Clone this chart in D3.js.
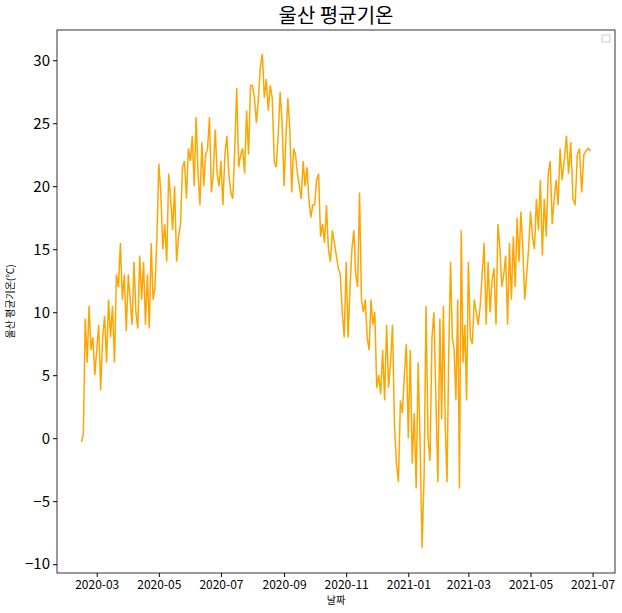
<!DOCTYPE html><html><head><meta charset="utf-8">
<script src="https://cdn.jsdelivr.net/npm/d3@7"></script>
<style>body{margin:0;background:#fff;font-family:"Noto Sans CJK KR","Noto Sans",sans-serif}</style></head><body>
<svg id="c" width="622" height="613"></svg>
<script>
const months=["2020-02-15","2020-03","2020-04","2020-05","2020-06","2020-07","2020-08","2020-09","2020-10","2020-11","2020-12","2021-01","2021-02","2021-03","2021-04","2021-05","2021-06"];
const monthValues=[
[-0.3,0.3,9.5,6,10.5,7,8,5],
[7,9,3.8,8,9.7,6,11,8,10.5,6,13,12,15.5,11,13,8.5],
[13,11,9,14,10,8.7,14.5,11,14,9,13,8.7,15.5,11,12,16],
[21.8,19.5,15,17,14,21,19,16.5,20,14,16,17,21.5,22,19,23],
[22,24,20,25.5,21,18.5,23.5,20,22.5,23,25.5,19.5,21,24.5,21,20],
[22,18.5,22.5,24,21,19.5,19,23,27.8,21.5,22.5,23,21,26,22.5,28],
[28,27,25,27,29.5,30.5,27,28.5,26,28,27,22,21.5,24,27.5,25],
[20,24,27,24.5,19.5,23,22.5,21,20,19,22,20,21.5,19,17.5,18.5],
[18.5,20.5,21,16,17,15.5,18.5,15,14,16.5,15.5,14.5,13.5,13,10,8],
[14,8,12,15,16.5,13,12,19.5,11,10,11,8,7,11,9,10],
[4,5,3.5,7,3,9,4,6,9,1,-2,-3.5,3,2,5,7.5],
[0,7,-2,2,-4,6,-0.5,-8.7,-3,10.5,0,-1.8,8,10,3,-3.5],
[9.5,1.5,10.5,1,-3.5,7,14,8,7,3,11,-4,16.5,6,9,3],
[14,8,7.5,11,10,9,10.5,13,15.5,9,14,10,12.5,13.5,9,17],
[15,12,13,14.5,9,15.5,11,16,12,17.5,14,18,15,11,13,15],
[18,16,15,19,16.5,20.5,14.5,19,16,21,22,17,19,20.5,18.5,23],
[20.5,22,24,21,23.5,19,18.5,22.5,23,19.5,22.5,22.8,23,22.8]
];
const yTicks=[-10,-5,0,5,10,15,20,25,30];
const data=[];
months.forEach((m,i)=>{
  const start=i===0?new Date(2020,1,15):new Date(+m.slice(0,4),+m.slice(5)-1,1);
  const end=i===0?new Date(2020,2,1):d3.timeMonth.offset(start,1);
  const vals=monthValues[i];const step=(end-start)/vals.length;
  vals.forEach((v,j)=>data.push({d:new Date(+start+j*step),v}));
});
const svg=d3.select("#c");
const L=57,R=615,T=30,B=573;
const x=d3.scaleTime().domain([new Date(2020,0,22),new Date(2021,6,23)]).range([L,R]);
const y=d3.scaleLinear().domain([-10.7,32.4]).range([B,T]);
svg.append("rect").attr("x",L).attr("y",T).attr("width",R-L).attr("height",B-T).attr("fill","none").attr("stroke","#000").attr("stroke-width",0.8);
svg.append("path").datum(data).attr("fill","none").attr("stroke","orange").attr("stroke-width",1.5)
 .attr("d",d3.line().x(d=>x(d.d)).y(d=>y(d.v)));
const xt=[];for(let i=0;i<=8;i++)xt.push(new Date(2020,2+2*i,1));
const gx=svg.append("g").attr("transform",`translate(0,${B})`).call(d3.axisBottom(x).tickValues(xt).tickFormat(d3.timeFormat("%Y-%m")).tickSizeOuter(0).tickSize(4));
gx.selectAll("text").attr("font-size",12).attr("fill","#000").attr("font-family","Noto Sans CJK KR");gx.select(".domain").remove();
const gy=svg.append("g").attr("transform",`translate(${L},0)`).call(d3.axisLeft(y).tickValues(yTicks).tickSizeOuter(0).tickSize(4));
gy.selectAll("text").attr("font-size",15).attr("fill","#000").attr("font-family","Noto Sans CJK KR");gy.select(".domain").remove();
svg.append("text").attr("x",(L+R)/2).attr("y",23).attr("text-anchor","middle").attr("font-size",20).text("울산 평균기온");
svg.append("text").attr("x",(L+R)/2).attr("y",604).attr("text-anchor","middle").attr("font-size",10).text("날짜");
svg.append("text").attr("transform",`translate(14,${(T+B)/2}) rotate(-90)`).attr("text-anchor","middle").attr("font-size",10).text("울산 평균기온(℃)");
svg.append("rect").attr("x",602).attr("y",35).attr("width",8).attr("height",7).attr("fill","#fff").attr("stroke","#ccc");
</script></body></html>
